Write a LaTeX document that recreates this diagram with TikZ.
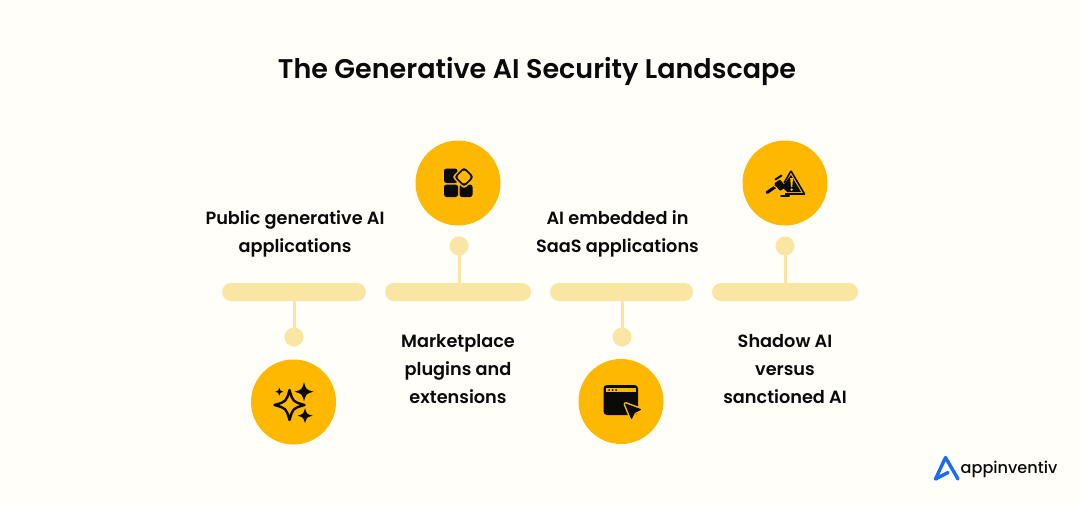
\documentclass[tikz,border=0pt]{standalone}
\usepackage{fontspec}
\setmainfont{Poppins}[BoldFont={Poppins SemiBold}]
\newfontfamily\logofont{Poppins Medium}
\definecolor{bgc}{HTML}{FFFEF9}
\definecolor{amber}{HTML}{FFB800}
\definecolor{pale}{HTML}{FBE5A2}
\definecolor{logob}{HTML}{1F6BF0}
\definecolor{ink}{HTML}{0A0A0A}
\tikzset{
 x=1pt,y=-1pt,
 disc/.style={circle,fill=amber,minimum size=85pt,inner sep=0},
 knob/.style={circle,fill=pale,minimum size=19pt,inner sep=0},
 bar/.style={rounded corners=9pt,fill=pale,minimum height=18pt,inner sep=0},
 link/.style={draw=pale,line width=3pt},
 lab/.style={font=\fontsize{17.7}{28}\selectfont\bfseries,text=ink,align=center,inner sep=0},
 ic/.style={fill=ink,draw=none},
 icl/.style={draw=ink,line width=2.4pt,line join=round},
}
\newcommand{\spark}[3]{% x y r
 (#1,#2-#3) .. controls (#1+0.22*#3,#2-0.22*#3) .. (#1+#3,#2) .. controls (#1+0.22*#3,#2+0.22*#3) .. (#1,#2+#3) .. controls (#1-0.22*#3,#2+0.22*#3) .. (#1-#3,#2) .. controls (#1-0.22*#3,#2-0.22*#3) .. (#1,#2-#3) -- cycle}
\begin{document}
\begin{tikzpicture}
\useasboundingbox (0,0) rectangle (1080,506);
\fill[bgc] (0,0) rectangle (1080,506);
\node[font=\fontsize{27}{32}\selectfont\bfseries,text=ink,inner sep=0] (title) at (537,71.5) {The Generative AI Security Landscape};
% bars
\node[bar,minimum width=144pt] (b1) at (294,292) {};
\node[bar,minimum width=146pt] (b2) at (458,292) {};
\node[bar,minimum width=143pt] (b3) at (621.5,292) {};
\node[bar,minimum width=146pt] (b4) at (785,292) {};
% knobs
\node[knob] (k1) at (294,337) {};
\node[knob] (k2) at (459,246) {};
\node[knob] (k3) at (622,337) {};
\node[knob] (k4) at (785,246) {};
% links
\draw[link] (b1.center) -- (k1.center);
\draw[link] (k2.center) -- (k2.center |- b2.center);
\draw[link] (b3.center -| k3.center) -- (k3.center);
\draw[link] (b4.center) -- (k4.center);
% discs
\node[disc] (c1) at (293.5,402) {};
\node[disc] (c2) at (458,183) {};
\node[disc] (c3) at (621,401.5) {};
\node[disc] (c4) at (785,183) {};
% labels
\node[lab] (t1) at (295,234) {Public generative AI\\applications};
\node[lab] (t2) at (458,369) {Marketplace\\plugins and\\extensions};
\node[lab] (t3) at (617.5,234) {AI embedded in\\SaaS applications};
\node[lab] (t4) at (785,369) {Shadow AI\\versus\\sanctioned AI};
% icon 1: sparkles
\draw[icl] \spark{289.5}{405}{15};
\fill[ic] \spark{304}{391.7}{9.5};
\fill[ic] \spark{305}{415.7}{7.5};
\fill[ic] \spark{279.3}{391.7}{4};
% icon 2: blocks
\fill[ic,rounded corners=2.5pt] (444,168.5) rectangle (457.5,183);
\fill[ic,rounded corners=2.5pt] (444,184.5) rectangle (458,197);
\fill[ic,rounded corners=2.5pt] (459.5,184.5) rectangle (472.5,197);
\fill[amber,rounded corners=3pt] (464,165) -- (476,177) -- (464,189) -- (452,177) -- cycle;
\fill[ic,rounded corners=3pt] (464,167) -- (474,177) -- (464,187) -- (454,177) -- cycle;
\fill[amber,rounded corners=2.5pt] (464,169.5) -- (471.5,177) -- (464,184.5) -- (456.5,177) -- cycle;
% icon 3: window + cursor
\fill[ic,rounded corners=3.5pt] (603.5,385) rectangle (638,415);
\fill[amber] (606,388) rectangle (635.5,392);
\fill[ic] (609,390) circle (1pt) (612.5,390) circle (1pt) (616,390) circle (1pt);
\draw[amber,line width=4pt,line join=round] (625.5,404) -- (640.5,409.5) -- (634.5,412.5) -- (631.5,418.5) -- cycle;
\filldraw[fill=ink,draw=ink,line width=1pt,line join=round] (625.5,404) -- (640.5,409.5) -- (634.5,412.5) -- (631.5,418.5) -- cycle;
% icon 4: gavel + warning triangle
\draw[ink,line width=1.6pt,line join=round] (791,171) -- (804.5,194) -- (785,194);
\draw[ink,line width=1.6pt] (791,171) -- (784,183);
\fill[ic,line join=round] (791,175) -- (801,192) -- (787,192) -- (782,187) -- cycle;
\fill[amber] (790.2,178) -- (793,178) -- (792.3,187) -- (790.9,187) -- cycle;
\fill[amber] (791.6,189.6) circle (1.3pt);
\draw[ink,line width=2pt,line cap=round] (781,195.5) -- (789,195.5);
\draw[ink,line width=3pt,line cap=round] (767,192.5) -- (778,185);
\draw[amber,line width=1pt] (771,184) -- (784,192.5);
\fill[ic,rounded corners=1pt] (774,183.5) -- (780,179.5) -- (786,187) -- (780,191) -- cycle;
\draw[ink,line width=2pt,line cap=round] (775.5,179.5) -- (781.5,175.5);
% logo
\draw[logob,line width=3.4pt,line join=round,line cap=round] (958,479) -- (945.5,457.5) -- (935.5,479) -- (948,472.5);
\node[font=\fontsize{16.1}{20}\selectfont\logofont,text=ink,inner sep=0,anchor=base west] (logo) at (960.5,473.5) {appinventiv};
\end{tikzpicture}
\end{document}
